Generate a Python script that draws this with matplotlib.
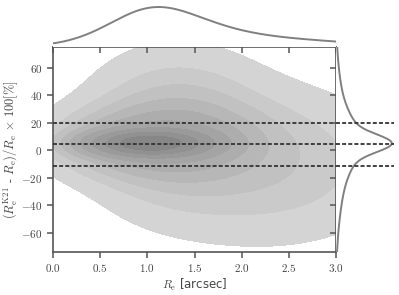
import numpy as np
import matplotlib
matplotlib.use("Agg")
import matplotlib.pyplot as plt

plt.rcParams['font.family'] = 'serif'
plt.rcParams['font.serif'] = ['cmr10']
plt.rcParams['mathtext.fontset'] = 'cm'
plt.rcParams['axes.formatter.use_mathtext'] = True

comp_w = [0.24, 0.26, 0.26, 0.24]
comp_mx = [1.00, 1.10, 1.30, 2.30]
comp_my = [5.0, 6.0, 14.0, -11.0]
comp_sx = [0.40, 0.60, 0.55, 0.80]
comp_sy = [6.0, 15.0, 32.0, 33.0]

hlines = [19.8, 4.7, -11.8]
xticks = [0.0, 0.5, 1.0, 1.5, 2.0, 2.5, 3.0]
yticks = [-60, -40, -20, 0, 20, 40, 60]
xlim = (0, 3)
ylim = (-74, 75)

# density on a grid
xg = np.linspace(-0.6, 4.2, 320)
yg = np.linspace(-140, 140, 420)
X, Y = np.meshgrid(xg, yg)
Z = np.zeros_like(X)
for w, mx, my, sx, sy in zip(comp_w, comp_mx, comp_my, comp_sx, comp_sy):
    Z += w / (2 * np.pi * sx * sy) * np.exp(-0.5 * ((X - mx) / sx) ** 2 - 0.5 * ((Y - my) / sy) ** 2)

# iso-proportion levels, like seaborn (levels=10, thresh=0.05)
props = np.linspace(0.05, 1, 10)
vals = np.sort(Z.ravel())[::-1]
cum = np.cumsum(vals) / vals.sum()
idx = np.searchsorted(cum, 1 - props)
levels = np.sort(np.take(vals, idx, mode='clip'))
levels[-1] = Z.max() * 1.01
greys = np.linspace(0.83, 0.53, len(levels) - 1)
band_colors = [(g, g, g) for g in greys]

W, H = 399, 295
fig = plt.figure(figsize=(W / 100, H / 100), dpi=100)
L, R, B, T = 53, 336, 252, 47
ax = fig.add_axes([L / W, (H - B) / H, (R - L) / W, (B - T) / H])
ax_top = fig.add_axes([L / W, (H - T) / H, (R - L) / W, T / H], sharex=ax)
ax_right = fig.add_axes([R / W, (H - B) / H, (394 - R) / W, (B - T) / H], sharey=ax)

ax.contourf(X, Y, Z, levels=levels, colors=band_colors)

for yv in hlines:
    ax.axhline(yv, color='#333333', lw=1.3, ls=(0, (2.2, 1.2)), zorder=5)
    ax_right.axhline(yv, color='#333333', lw=1.3, ls=(0, (2.2, 1.2)), zorder=5)

# marginals
px = Z.sum(axis=0)
py = Z.sum(axis=1)
ax_top.plot(xg, px, color='#808080', lw=1.4)
ax_top.set_ylim(0, px.max() * 47 / 40)
ax_right.plot(py, yg, color='#808080', lw=1.4)
ax_right.set_xlim(0, py.max() * 1.04)

ax.set_xlim(*xlim)
ax.set_ylim(*ylim)
ax.set_xticks(xticks)
ax.set_yticks(yticks)

spine_c = '#555555'
for a in (ax, ax_top, ax_right):
    for s in a.spines.values():
        s.set_color(spine_c)
        s.set_linewidth(1.2)
    a.tick_params(direction='out', length=4, width=1.1, color=spine_c,
                  labelsize=8, labelcolor='#444444')

for s in ['top', 'right', 'bottom', 'left']:
    ax_top.spines[s].set_visible(False)
    ax_right.spines[s].set_visible(False)
ax_top.tick_params(axis='x', bottom=True, labelbottom=False)
ax_top.tick_params(axis='y', left=False, labelleft=False)
ax_right.tick_params(axis='y', left=True, labelleft=False)
ax_right.tick_params(axis='x', bottom=False, labelbottom=False)

ax.set_xlabel(r'$R_{\rm e}$ [arcsec]', fontsize=8.5, color='#444444',
              family='DejaVu Sans', labelpad=2)
ax.set_ylabel(r'$(R_{\rm e}^{\rm K21}$ - $R_{\rm e})/R_{\rm e}$ $\times$ 100[%]',
              fontsize=9, color='#444444', labelpad=1)

fig.savefig('out.png', dpi=100)
